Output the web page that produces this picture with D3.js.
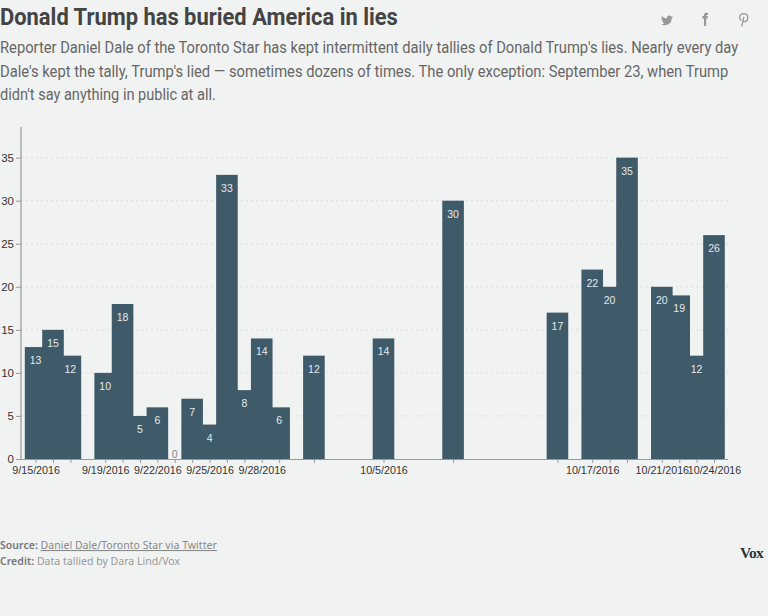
<!DOCTYPE html>
<html><head><meta charset="utf-8">
<script src="https://cdnjs.cloudflare.com/ajax/libs/d3/7.8.5/d3.min.js"></script>
<style>
html,body{margin:0;padding:0;background:#f1f3f2;overflow:hidden}
svg{display:block}
.tick-t{font-family:"Liberation Sans",Arial,sans-serif}
</style></head><body>
<svg id="c" width="768" height="616"></svg>
<script>
const dates=["2016-09-15","2016-09-16","2016-09-17","2016-09-19","2016-09-20","2016-09-21","2016-09-22","2016-09-23","2016-09-24","2016-09-25","2016-09-26","2016-09-27","2016-09-28","2016-09-29","2016-10-01","2016-10-05","2016-10-09","2016-10-15","2016-10-17","2016-10-18","2016-10-19","2016-10-21","2016-10-22","2016-10-23","2016-10-24"];
const lies=[13,15,12,10,18,5,6,0,7,4,33,8,14,6,12,14,30,17,22,20,35,20,19,12,26];
const labelledDates=["2016-09-15","2016-09-19","2016-09-22","2016-09-25","2016-09-28","2016-10-05","2016-10-17","2016-10-21","2016-10-24"];
const yTicks=[0,5,10,15,20,25,30,35];
const titleText="Donald Trump has buried America in lies";
const subtitleLines=["Reporter Daniel Dale of the Toronto Star has kept intermittent daily tallies of Donald Trump's lies. Nearly every day","Dale's kept the tally, Trump's lied — sometimes dozens of times. The only exception: September 23, when Trump","didn't say anything in public at all."];

const parse=d3.utcParse("%Y-%m-%d");
const fmt=d=>`${d.getUTCMonth()+1}/${d.getUTCDate()}/${d.getUTCFullYear()}`;
const svg=d3.select("#c");
const x=d3.scaleUtc().domain([parse("2016-09-15"),parse("2016-10-24")]).range([35.6,714]);
const y=d3.scaleLinear().domain([0,38.5]).range([459,127.5]);
const barW=21.6;

function fit(sel,px,py,w){
  const n=sel.node().getComputedTextLength();
  sel.attr("transform",`translate(${px},${py}) scale(${w/n},1)`);
}
fit(svg.append("text").text(titleText)
  .attr("font-family","Roboto,sans-serif").attr("font-weight",700).attr("font-size",23)
  .attr("fill","#444"),0,25,398);
const subW=[739,729,216];
subtitleLines.forEach((t,i)=>fit(svg.append("text").text(t)
  .attr("font-family","Roboto,sans-serif").attr("font-size",17).attr("fill","#666"),0,53+i*23.7,subW[i]));

// icons
const ic=svg.append("g").attr("fill","#999");
ic.append("path").attr("transform","translate(661,14.5) scale(0.5)")
  .attr("d","M24 4.6c-.9.4-1.8.7-2.8.8 1-.6 1.8-1.6 2.2-2.7-1 .6-2 1-3.1 1.2C19.3 2.8 18 2.2 16.6 2.2c-2.7 0-4.9 2.2-4.9 4.9 0 .4 0 .8.1 1.1C7.7 8 4.1 6 1.7 3c-.4.7-.7 1.6-.7 2.5 0 1.7.9 3.2 2.2 4.1-.8 0-1.6-.2-2.2-.6v.1c0 2.4 1.7 4.4 3.9 4.8-.4.1-.8.2-1.3.2-.3 0-.6 0-.9-.1.6 2 2.4 3.4 4.6 3.4-1.7 1.3-3.8 2.1-6.1 2.1-.4 0-.8 0-1.2-.1 2.2 1.4 4.8 2.2 7.5 2.2 9.1 0 14-7.5 14-14v-.6c1-.7 1.8-1.6 2.5-2.6z");
ic.append("path").attr("d","M704 26V18.5h-1.6V16H704v-1c0-1.4.9-2.2 2.2-2.2h1.7v2.3h-1c-.5 0-.7.2-.7.7V16h1.7l-.3 2.5h-1.4V26z");
ic.append("path").attr("fill","none").attr("stroke","#999").attr("stroke-width",1.3)
  .attr("d","M741.2 20.5c-1-.8-1.5-1.8-1.5-3 0-2.4 1.9-3.9 4.1-3.9s4 1.5 4 3.7c0 2.5-1.4 4.3-3.2 4.3-.9 0-1.5-.5-1.6-1.2M743.8 16.8l-2 9.6");

// grid
svg.append("g").selectAll("line").data(yTicks.filter(d=>d>0)).join("line")
  .attr("x1",21).attr("x2",728).attr("y1",d=>y(d)).attr("y2",d=>y(d))
  .attr("stroke","#dcdcdc").attr("stroke-width",1).attr("stroke-dasharray","2,3");

// bars
const rows=dates.map((d,i)=>({date:parse(d),v:lies[i]}));
svg.append("g").selectAll("rect").data(rows).join("rect")
  .attr("x",d=>x(d.date)-barW/2).attr("width",barW)
  .attr("y",d=>y(d.v)).attr("height",d=>y(0)-y(d.v)).attr("fill","#3f5a69");

// value labels
svg.append("g").selectAll("text").data(rows).join("text")
  .attr("class","tick-t").attr("text-anchor","middle").attr("font-size",10.5)
  .attr("x",d=>x(d.date)).attr("y",d=>d.v===0?y(0)-1.5:y(d.v)+17)
  .attr("fill",d=>d.v===0?"#888":"#e6e9ea").text(d=>d.v);

// axes
const labelled=new Set(labelledDates);
const xAxis=d3.axisBottom(x).tickValues(rows.map(d=>d.date)).tickSize(4).tickPadding(3)
  .tickFormat(d=>labelled.has(d3.utcFormat("%Y-%m-%d")(d))?fmt(d):"");
const gx=svg.append("g").attr("transform","translate(0,459)").call(xAxis);
gx.select(".domain").attr("d","M21,0.5H728").attr("stroke","#999");
gx.selectAll(".tick line").attr("stroke","#999");
gx.selectAll("text").attr("class","tick-t").attr("font-size",10.7).attr("fill","#333");

const yAxis=d3.axisLeft(y).tickValues(yTicks).tickSize(5).tickPadding(2).tickFormat(d3.format("d"));
const gy=svg.append("g").attr("transform","translate(21,0)").call(yAxis);
gy.select(".domain").attr("d","M0,127V459.5").attr("stroke","#aaa").attr("stroke-width",1.5);
gy.selectAll(".tick line").attr("stroke","#999");
gy.selectAll("text").attr("class","tick-t").attr("font-size",11.5).attr("fill","#333");

// footer
const ff="'Noto Sans',sans-serif";
const s=svg.append("text").attr("x",0).attr("y",549).attr("font-family",ff).attr("font-size",10.5).attr("letter-spacing",0.03);
s.append("tspan").attr("fill","#777").attr("font-weight",600).text("Source: ");
s.append("tspan").attr("fill","#888").attr("text-decoration","underline").text("Daniel Dale/Toronto Star via Twitter");
const c=svg.append("text").attr("x",0).attr("y",565).attr("font-family",ff).attr("font-size",10.5).attr("letter-spacing",0.03);
c.append("tspan").attr("fill","#777").attr("font-weight",600).text("Credit: ");
c.append("tspan").attr("fill","#999").text("Data tallied by Dara Lind/Vox");
svg.append("text").attr("x",740).attr("y",558).text("Vox")
  .attr("font-family","Liberation Serif,serif").attr("font-weight",700).attr("font-size",15.5)
  .attr("letter-spacing",-0.8).attr("fill","#333");
</script>
</body></html>
